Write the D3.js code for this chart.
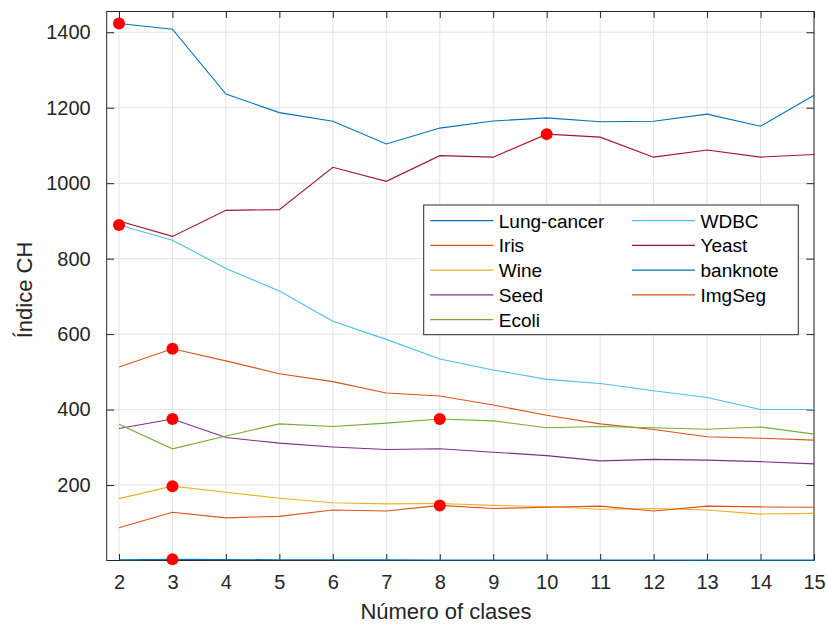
<!DOCTYPE html>
<html>
<head>
<meta charset="utf-8">
<script src="https://cdn.jsdelivr.net/npm/d3@7"></script>
<style>
  html, body { margin: 0; padding: 0; background: #fff; }
  svg { display: block; font-family: "Liberation Sans", Arial, Helvetica, sans-serif; }
</style>
</head>
<body>
<svg id="chart" width="827" height="625"></svg>
<script>
// Number of clusters evaluated
const clusters = [2, 3, 4, 5, 6, 7, 8, 9, 10, 11, 12, 13, 14, 15];

// Calinski-Harabasz index per dataset
const lungCancer = [1.6, 3.0, 2.4, 2.0, 1.8, 1.6, 1.5, 1.4, 1.3, 1.2, 1.2, 1.1, 1.0, 1.0];
const iris       = [513, 561, 529, 495, 474, 444, 436, 412, 385, 362, 347, 328, 324, 319];
const wine       = [164, 197, 181, 165, 153, 150, 151, 146, 143, 136, 138, 134, 123, 125];
const seed       = [350, 375, 326, 311, 301, 294, 296, 287, 278, 264, 268, 266, 262, 256];
const ecoli      = [361, 296, 330, 362, 355, 364, 375, 370, 352, 355, 352, 348, 354, 335];
const wdbc       = [889, 849, 774, 714, 634, 586, 534, 505, 480, 469, 450, 432, 400, 400];
const yeast      = [900, 859, 928, 930, 1042, 1005, 1073, 1069, 1130, 1122, 1069, 1088, 1069, 1076];
const banknote   = [1423, 1408, 1236, 1187, 1164, 1104, 1146, 1165, 1173, 1163, 1164, 1183, 1151, 1233];
const imgSeg     = [87, 128, 113, 117, 134, 131, 146, 138, 141, 144, 131, 144, 142, 141];

const seriesNames  = ["Lung-cancer", "Iris", "Wine", "Seed", "Ecoli", "WDBC", "Yeast", "banknote", "ImgSeg"];
const seriesValues = [lungCancer, iris, wine, seed, ecoli, wdbc, yeast, banknote, imgSeg];
const seriesColors = ["#0072BD", "#D95319", "#EDB120", "#7E2F8E", "#77AC30", "#4DBEEE", "#A2142F", "#0072BD", "#D95319"];

const yTicks = [200, 400, 600, 800, 1000, 1200, 1400];
const xTicks = clusters;

const axisColor = "#262626";
const gridColor = "#e3e3e3";

const svg = d3.select("#chart");
const plotL = 106.7, plotR = 814, plotT = 11.5, plotB = 560.5;

const x = d3.scaleLinear().domain([1.77, 15]).range([plotL, plotR]);
const y = d3.scaleLinear().domain([0, 1455]).range([plotB, plotT]);

// grid
const grid = svg.append("g");
grid.selectAll("line.gx").data(xTicks).join("line")
  .attr("x1", d => x(d)).attr("x2", d => x(d))
  .attr("y1", plotT).attr("y2", plotB)
  .attr("stroke", gridColor).attr("stroke-width", 1);
grid.selectAll("line.gy").data(yTicks).join("line")
  .attr("x1", plotL).attr("x2", plotR)
  .attr("y1", d => y(d)).attr("y2", d => y(d))
  .attr("stroke", gridColor).attr("stroke-width", 1);

// series lines
const line = d3.line().x((d, i) => x(clusters[i])).y(d => y(d));
const lines = svg.append("g");
seriesValues.forEach((vals, k) => {
  lines.append("path")
    .datum(vals)
    .attr("d", line)
    .attr("fill", "none")
    .attr("stroke", seriesColors[k])
    .attr("stroke-width", 1.1);
});

// axes with inward ticks on all four sides
const fs = 20;
const axB = d3.axisBottom(x).tickValues(xTicks).tickSizeInner(-6.5).tickSizeOuter(0).tickPadding(14.5).tickFormat(d3.format("d"));
const axT = d3.axisTop(x).tickValues(xTicks).tickSizeInner(-6.5).tickSizeOuter(0).tickFormat("");
const axL = d3.axisLeft(y).tickValues(yTicks).tickSizeInner(-7.5).tickSizeOuter(0).tickPadding(16).tickFormat(d3.format("d"));
const axR = d3.axisRight(y).tickValues(yTicks).tickSizeInner(-7.5).tickSizeOuter(0).tickFormat("");

function styleAxis(g) {
  g.select(".domain").remove();
  g.selectAll(".tick line").attr("stroke", axisColor).attr("stroke-width", 1);
  g.selectAll(".tick text").attr("fill", axisColor).attr("font-size", fs)
    .attr("font-family", "Liberation Sans, Arial, sans-serif");
}
svg.append("g").attr("transform", `translate(0,${plotB})`).call(axB).call(styleAxis);
svg.append("g").attr("transform", `translate(0,${plotT})`).call(axT).call(styleAxis);
svg.append("g").attr("transform", `translate(${plotL},0)`).call(axL).call(styleAxis);
svg.append("g").attr("transform", `translate(${plotR},0)`).call(axR).call(styleAxis);

// axes box
svg.append("rect")
  .attr("x", plotL).attr("y", plotT)
  .attr("width", plotR - plotL).attr("height", plotB - plotT)
  .attr("fill", "none").attr("stroke", axisColor).attr("stroke-width", 1);

// lowest series sits on the bottom edge, drawn over the box
lines.raise();

// maximum of each series
const markers = svg.append("g");
seriesValues.forEach(vals => {
  const i = d3.maxIndex(vals);
  markers.append("circle")
    .attr("cx", x(clusters[i])).attr("cy", y(vals[i]))
    .attr("r", 6).attr("fill", "#ff0000");
});

// axis titles
svg.append("text")
  .attr("x", 446).attr("y", 619)
  .attr("text-anchor", "middle")
  .attr("font-size", 22).attr("fill", axisColor)
  .text("Número of clases");
svg.append("text")
  .attr("transform", "translate(31.5,290) rotate(-90)")
  .attr("text-anchor", "middle")
  .attr("font-size", 22).attr("fill", axisColor)
  .text("Índice CH");

// legend (two columns, column-major)
const lg = svg.append("g");
lg.append("rect")
  .attr("x", 423.7).attr("y", 205)
  .attr("width", 798.3 - 423.7).attr("height", 334.7 - 205)
  .attr("fill", "#fff").attr("stroke", axisColor).attr("stroke-width", 1);
const rowsPerCol = 5;
const colLineX = [430.3, 632];
const rowY0 = 220.7, rowStep = 24.75;
seriesNames.forEach((name, k) => {
  const col = Math.floor(k / rowsPerCol);
  const row = k % rowsPerCol;
  const ly = rowY0 + row * rowStep;
  const lx = colLineX[col];
  lg.append("line")
    .attr("x1", lx).attr("x2", lx + 63)
    .attr("y1", ly).attr("y2", ly)
    .attr("stroke", seriesColors[k]).attr("stroke-width", 1.2);
  lg.append("text")
    .attr("x", lx + 68.5).attr("y", ly + 7)
    .attr("font-size", 19).attr("fill", "#000")
    .text(name);
});
</script>
</body>
</html>
